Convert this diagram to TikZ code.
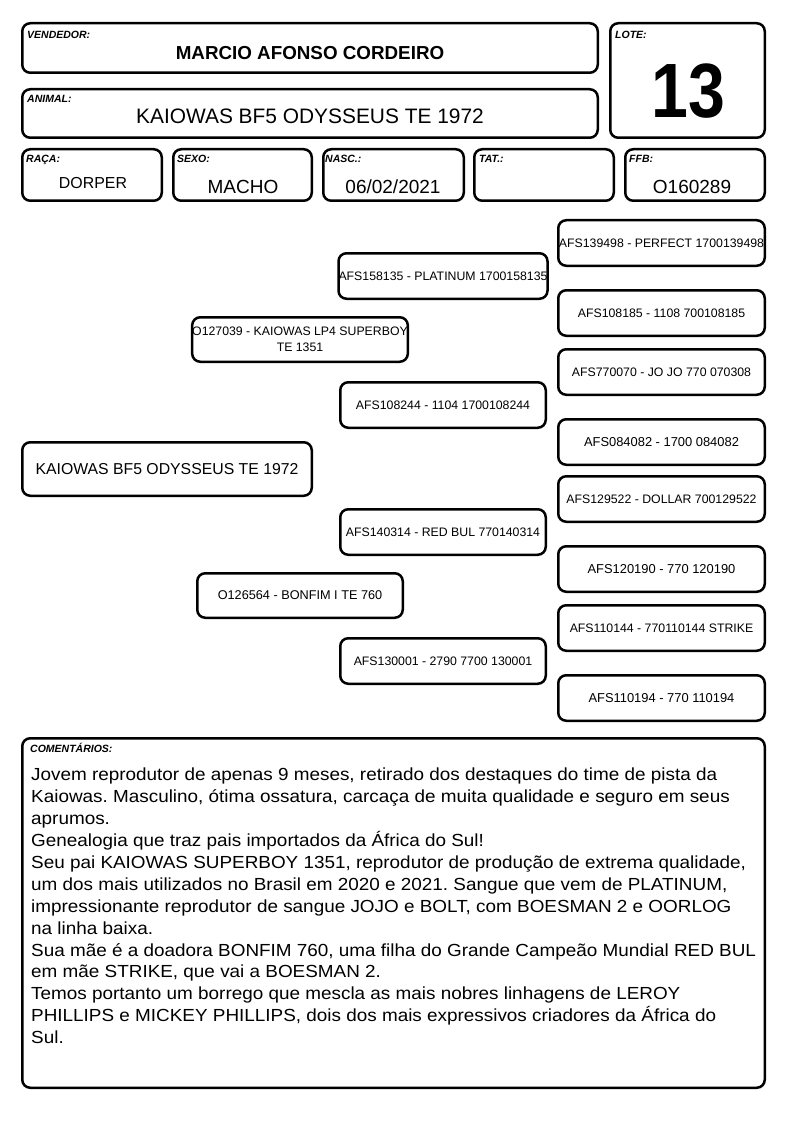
\documentclass[tikz,border=0pt]{standalone}
\usepackage{fontspec}
\setmainfont{Liberation Sans}
\newfontfamily\wideface[FakeStretch=1.08]{Liberation Sans}
\newfontfamily\narrowface[FakeStretch=0.86]{Liberation Sans}
\usepackage{tikz}

\begin{document}
\frenchspacing
\begin{tikzpicture}[x=1pt,y=-1pt,
  box/.style={draw=black,line width=2.5pt,rounded corners=8pt,inner sep=0pt,rectangle},
  lbl/.style={anchor=base west,inner sep=0pt,font=\fontsize{10.5}{12}\selectfont\bfseries\itshape},
  val/.style={anchor=base,inner sep=0pt,font=\fontsize{19}{22}\selectfont},
  ped/.style={box,minimum width=205.5pt,minimum height=45.5pt,align=center,font=\fontsize{12.3}{15}\selectfont},
  pedbig/.style={ped,font=\fontsize{12.9}{15}\selectfont}]
\fill[color=white] (0.000000, 0.000000) rectangle (794.000000, 1123.000000);
\useasboundingbox (0.000000, 0.000000) rectangle (794.000000, 1123.000000);
% Drawing header boxes
% Box 1: VENDEDOR
\node[box,minimum width=575.5pt,minimum height=49.5pt] (vend) at (310.000000, 48.000000) {};
\node[lbl] (vendlbl) at (27.000000, 38.700000) {VENDEDOR:};
\node[val,font=\fontsize{18.8}{22}\selectfont\bfseries] (vendval) at (310.000000, 59.700000) {MARCIO AFONSO CORDEIRO};
% Box 2: ANIMAL
\node[box,minimum width=575.5pt,minimum height=48.5pt] (anim) at (310.000000, 113.500000) {};
\node[lbl] (animlbl) at (27.000000, 103.000000) {ANIMAL:};
\node[val,font=\fontsize{20.9}{24}\selectfont] (animval) at (310.000000, 123.500000) {KAIOWAS BF5 ODYSSEUS TE 1972};
% Box 3: LOTE
\node[box,minimum width=154.5pt,minimum height=114.5pt] (lote) at (687.500000, 80.500000) {};
\node[lbl] (lotelbl) at (615.000000, 39.000000) {LOTE:};
\node[val,font=\fontsize{77}{80}\narrowface\bfseries] (loteval) at (688.500000, 118.000000) {13};
% Row of small boxes
% Box 4: RACA
\node[box,minimum width=139.5pt,minimum height=51.5pt] (raca) at (92.000000, 175.000000) {};
\node[lbl] (racalbl) at (26.000000, 163.000000) {RAÇA:};
\node[val,font=\fontsize{15.9}{18}\selectfont] (racaval) at (93.000000, 188.700000) {DORPER};
% Box 5: SEXO
\node[box,minimum width=138.5pt,minimum height=51.5pt] (sexo) at (242.500000, 175.000000) {};
\node[lbl] (sexolbl) at (177.000000, 163.000000) {SEXO:};
\node[val] (sexoval) at (243.000000, 193.800000) {MACHO};
% Box 6: NASC
\node[box,minimum width=140.5pt,minimum height=51.5pt] (nasc) at (393.500000, 175.000000) {};
\node[lbl] (nasclbl) at (325.000000, 163.000000) {NASC.:};
\node[val] (nascval) at (393.000000, 193.800000) {06/02/2021};
% Box 7: TAT
\node[box,minimum width=139.5pt,minimum height=51.5pt] (tat) at (544.000000, 175.000000) {};
\node[lbl] (tatlbl) at (479.000000, 163.000000) {TAT.:};
% Box 8: FFB
\node[box,minimum width=139.5pt,minimum height=51.5pt] (ffb) at (695.000000, 175.000000) {};
\node[lbl] (ffblbl) at (629.000000, 163.000000) {FFB:};
\node[val] (ffbval) at (692.000000, 193.800000) {O160289};
% Done with header; drawing pedigree
% Generation 1
\node[box,minimum width=289.5pt,minimum height=53.5pt,font=\fontsize{15.8}{18}\selectfont] (animal) at (167.000000, 469.000000) {KAIOWAS BF5 ODYSSEUS TE 1972};
% Generation 2
\node[ped,minimum height=44.5pt,font=\fontsize{12.3}{15.5}\selectfont] (sire) at (300.000000, 339.500000) {O127039 - KAIOWAS LP4 SUPERBOY\\TE 1351};
\node[ped,minimum height=44.5pt,font=\fontsize{12.7}{15}\selectfont] (dam) at (300.000000, 595.500000) {O126564 - BONFIM I TE 760};
% Generation 3
\node[ped] (ss) at (443.000000, 276.000000) {AFS158135 - PLATINUM 1700158135};
\node[ped] (sd) at (443.000000, 405.000000) {AFS108244 - 1104 1700108244};
\node[ped] (ds) at (443.000000, 532.000000) {AFS140314 - RED BUL 770140314};
\node[ped] (dd) at (443.000000, 661.000000) {AFS130001 - 2790 7700 130001};
% Generation 4
\node[ped,minimum width=206.5pt] (sss) at (661.500000, 243.000000) {AFS139498 - PERFECT 1700139498};
\node[ped,minimum width=206.5pt] (ssd) at (661.500000, 313.000000) {AFS108185 - 1108 700108185};
\node[ped,minimum width=206.5pt] (sds) at (661.500000, 372.000000) {AFS770070 - JO JO 770 070308};
\node[pedbig,minimum width=206.5pt] (sdd) at (661.500000, 442.000000) {AFS084082 - 1700 084082};
\node[ped,minimum width=206.5pt] (dss) at (661.500000, 499.000000) {AFS129522 - DOLLAR 700129522};
\node[pedbig,minimum width=206.5pt] (dsd) at (661.500000, 569.000000) {AFS120190 - 770 120190};
\node[ped,minimum width=206.5pt] (dds) at (661.500000, 628.000000) {AFS110144 - 770110144 STRIKE};
\node[pedbig,minimum width=206.5pt] (ddd) at (661.500000, 698.000000) {AFS110194 - 770 110194};
% Done with pedigree; drawing comments
\node[box,minimum width=742.5pt,minimum height=349.5pt] (coment) at (393.500000, 913.000000) {};
\node[lbl] (comentlbl) at (30.000000, 752.000000) {COMENTÁRIOS:};
\node[anchor=north west,inner sep=0pt,align=left,font=\fontsize{17.5}{21.9}\wideface] (comenttxt) at (31.000000, 768.000000) {%
Jovem reprodutor de apenas 9 meses, retirado dos destaques do time de pista da\\
Kaiowas. Masculino, ótima ossatura, carcaça de muita qualidade e seguro em seus\\
aprumos.\\
Genealogia que traz pais importados da África do Sul!\\
Seu pai KAIOWAS SUPERBOY 1351, reprodutor de produção de extrema qualidade,\\
um dos mais utilizados no Brasil em 2020 e 2021. Sangue que vem de PLATINUM,\\
impressionante reprodutor de sangue JOJO e BOLT, com BOESMAN 2 e OORLOG\\
na linha baixa.\\
Sua mãe é a doadora BONFIM 760, uma filha do Grande Campeão Mundial RED BUL\\
em mãe STRIKE, que vai a BOESMAN 2.\\
Temos portanto um borrego que mescla as mais nobres linhagens de LEROY\\
PHILLIPS e MICKEY PHILLIPS, dois dos mais expressivos criadores da África do\\
Sul.};
% Done with comments
\end{tikzpicture}
\end{document}
